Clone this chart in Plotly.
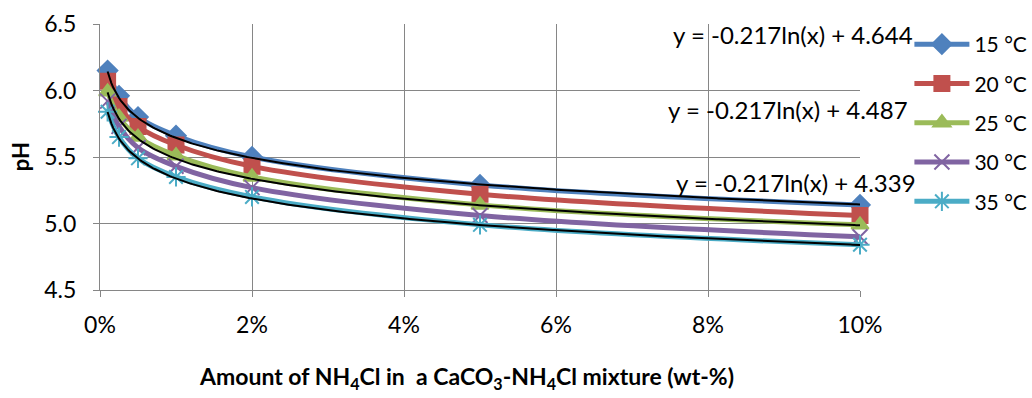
import numpy as np
import plotly.graph_objects as go

# NH4Cl content of the CaCO3-NH4Cl mixture (mass fraction)
nh4cl_frac = [0.001, 0.0025, 0.005, 0.01, 0.02, 0.05, 0.1]

# measured pH at each temperature
ph_15 = [6.15, 5.96, 5.80, 5.66, 5.50, 5.29, 5.14]
ph_20 = [6.07, 5.88, 5.73, 5.59, 5.43, 5.22, 5.06]
ph_25 = [5.99, 5.80, 5.65, 5.51, 5.35, 5.14, 4.99]
ph_30 = [5.92, 5.73, 5.57, 5.43, 5.27, 5.06, 4.90]
ph_35 = [5.84, 5.65, 5.49, 5.35, 5.20, 4.99, 4.84]

series_names = ["15 °C", "20 °C", "25 °C", "30 °C", "35 °C"]
series_values = [ph_15, ph_20, ph_25, ph_30, ph_35]
series_colors = ["#4F81BD", "#C0504D", "#9BBB59", "#8064A2", "#4BACC6"]
series_symbols = ["diamond", "square", "triangle-up", "x-thin-open", "asterisk-open"]
series_msize = [15, 15, 15, 15, 16]

# logarithmic trendlines y = a*ln(x) + b
trend_slope = [-0.217, -0.217, -0.217]
trend_intercept = [4.644, 4.487, 4.339]
trend_labels = ["y = -0.217ln(x) + 4.644", "y = -0.217ln(x) + 4.487", "y = -0.217ln(x) + 4.339"]

y_ticks = [4.5, 5.0, 5.5, 6.0, 6.5]
x_ticks = [0, 0.02, 0.04, 0.06, 0.08, 0.1]

FONT = "Lato"
GRID = "#868686"

fig = go.Figure()

for i, (name, vals) in enumerate(zip(series_names, series_values)):
    fig.add_trace(go.Scatter(
        x=nh4cl_frac, y=vals, name=name, mode="lines+markers",
        line=dict(color=series_colors[i], width=5, shape="spline"),
        marker=dict(symbol=series_symbols[i], size=series_msize[i],
                    color=series_colors[i],
                    line=dict(color=series_colors[i], width=2)),
        cliponaxis=False, legendgroup=name,
    ))

x_fit = np.linspace(nh4cl_frac[0], nh4cl_frac[-1], 400)
for a, b in zip(trend_slope, trend_intercept):
    fig.add_trace(go.Scatter(
        x=x_fit, y=a * np.log(x_fit) + b, mode="lines",
        line=dict(color="black", width=2), showlegend=False,
        hoverinfo="skip",
    ))

# trendline equations, placed at the right side of the plot
eq_pos = [(1.072, 0.959), (1.066, 0.677), (1.076, 0.406)]
for text, (px, py) in zip(trend_labels, eq_pos):
    fig.add_annotation(x=px, y=py, xref="paper", yref="paper", text=text,
                       showarrow=False, xanchor="right", yanchor="middle",
                       font=dict(family=FONT, size=24, color="black"))

fig.add_annotation(x=-0.105, y=0.5, xref="paper", yref="paper", text="<b>pH</b>",
                   showarrow=False, textangle=-90, xanchor="center", yanchor="middle",
                   font=dict(family=FONT, size=22, color="black"))
fig.add_annotation(x=0.482, y=-0.33, xref="paper", yref="paper",
                   text="<b>Amount of NH<sub>4</sub>Cl in  a CaCO<sub>3</sub>-NH<sub>4</sub>Cl mixture (wt-%)</b>",
                   showarrow=False, xanchor="center", yanchor="middle",
                   font=dict(family=FONT, size=23, color="black"))

fig.update_layout(
    width=1032, height=398,
    margin=dict(l=100, r=172, t=24, b=108, autoexpand=False),
    paper_bgcolor="white", plot_bgcolor="white",
    font=dict(family=FONT, size=22, color="black"),
    showlegend=True,
    legend=dict(x=1.065, y=1.0, xanchor="left", yanchor="top",
                bgcolor="rgba(0,0,0,0)", borderwidth=0,
                traceorder="grouped", tracegroupgap=9, itemwidth=55,
                font=dict(family=FONT, size=21, color="black")),
    xaxis=dict(range=[0, 0.1], tickvals=x_ticks, tickformat=".0%",
               showgrid=True, gridcolor=GRID, gridwidth=1,
               showline=True, linecolor=GRID, linewidth=1,
               ticks="outside", ticklen=6, tickcolor=GRID,
               ticklabelstandoff=8, tickfont=dict(size=23),
               zeroline=False, automargin=False),
    yaxis=dict(range=[4.5, 6.5], tickvals=y_ticks, tickformat=".1f",
               showgrid=True, gridcolor=GRID, gridwidth=1,
               showline=True, linecolor=GRID, linewidth=1,
               ticks="outside", ticklen=6, tickcolor=GRID,
               ticklabelstandoff=12, tickfont=dict(size=23),
               zeroline=False, automargin=False),
)

fig.write_html("out.html")
